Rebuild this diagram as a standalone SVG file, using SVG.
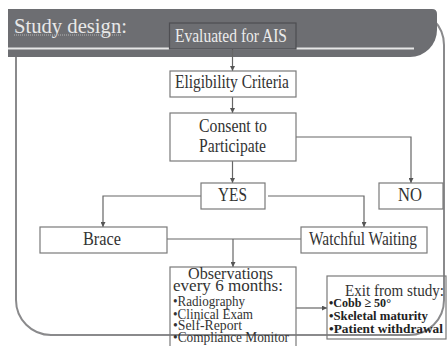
<svg xmlns="http://www.w3.org/2000/svg" width="447" height="346" viewBox="0 0 447 346">
<style>
.box{fill:none;stroke:#7a7a7a;stroke-width:1.2}
.c{fill:none;stroke:#666;stroke-width:1.2}
</style>
<defs>
<marker id="ah" viewBox="0 0 6 6" refX="6" refY="3" markerWidth="5" markerHeight="5" orient="auto" markerUnits="userSpaceOnUse">
<path d="M0,0 L6,3 L0,6 Z" fill="#555"/>
</marker>
</defs>
<rect x="0" y="0" width="447" height="346" fill="#fff"/>
<g id="panel">
<rect x="16" y="10" width="428" height="325" rx="35" ry="35" fill="none" stroke="#8a8a8c" stroke-width="2"/>
</g>
<g id="header">
<path d="M8,9 H432 Q437,9 437,14 V30 A27,27 0 0 1 410,57 H8 Z" fill="#6d6e72"/>
<line x1="8" y1="48.5" x2="414" y2="48.5" stroke="#e6e6e6" stroke-width="2"/>
<text x="14" y="33" font-family="Liberation Serif" font-size="22" fill="#e8e8e8" textLength="113" lengthAdjust="spacingAndGlyphs">Study design:</text>
<line x1="14" y1="35" x2="122" y2="35" stroke="#b5b5b5" stroke-width="1" stroke-dasharray="1,1"/>
</g>
<g id="connectors">
<line class="c" x1="232.5" y1="49" x2="232.5" y2="71" marker-end="url(#ah)"/>
<line class="c" x1="232.5" y1="97" x2="232.5" y2="113" marker-end="url(#ah)"/>
<line class="c" x1="232.5" y1="161" x2="232.5" y2="183" marker-end="url(#ah)"/>
<polyline class="c" points="296,137 411,137 411,183" marker-end="url(#ah)"/>
<polyline class="c" points="201,196 103,196 103,227" marker-end="url(#ah)"/>
<polyline class="c" points="268,196 364,196 364,227" marker-end="url(#ah)"/>
<line class="c" x1="167" y1="239" x2="301" y2="239"/>
<line class="c" x1="233" y1="239" x2="233" y2="267" marker-end="url(#ah)"/>
<line class="c" x1="296" y1="308" x2="327" y2="308" marker-end="url(#ah)"/>
</g>
<g id="evaluated">
<rect x="169.5" y="23" width="126.5" height="26" fill="#6d6e72" stroke="#4e4e52" stroke-width="1.2"/>
<text x="175" y="42" font-family="Liberation Serif" font-size="18" fill="#ececec" textLength="112" lengthAdjust="spacingAndGlyphs">Evaluated for AIS</text>
</g>
<g id="eligibility">
<rect class="box" x="170" y="71" width="126" height="26"/>
<text x="175" y="88" font-family="Liberation Serif" font-size="18" fill="#333" textLength="114" lengthAdjust="spacingAndGlyphs">Eligibility  Criteria</text>
</g>
<g id="consent">
<rect class="box" x="170" y="113" width="126" height="48"/>
<text x="199" y="132" font-family="Liberation Serif" font-size="18" fill="#333" textLength="68" lengthAdjust="spacingAndGlyphs">Consent to</text>
<text x="199" y="152" font-family="Liberation Serif" font-size="18" fill="#333" textLength="67" lengthAdjust="spacingAndGlyphs">Participate</text>
</g>
<g id="yes">
<rect class="box" x="201" y="183" width="64" height="26"/>
<text x="218" y="201" font-family="Liberation Serif" font-size="18" fill="#333" textLength="29" lengthAdjust="spacingAndGlyphs">YES</text>
</g>
<g id="no">
<rect class="box" x="379" y="183" width="64" height="26"/>
<text x="398" y="201" font-family="Liberation Serif" font-size="18" fill="#333" textLength="24" lengthAdjust="spacingAndGlyphs">NO</text>
</g>
<g id="brace">
<rect class="box" x="40" y="227" width="127" height="26"/>
<text x="83" y="245" font-family="Liberation Serif" font-size="18" fill="#333" textLength="38" lengthAdjust="spacingAndGlyphs">Brace</text>
</g>
<g id="watchful">
<rect class="box" x="301" y="227" width="126" height="26"/>
<text x="309" y="245" font-family="Liberation Serif" font-size="18" fill="#333" textLength="108" lengthAdjust="spacingAndGlyphs">Watchful Waiting</text>
</g>
<g id="observations">
<rect class="box" x="170" y="267" width="126" height="85"/>
<text x="188" y="279" font-family="Liberation Serif" font-size="17" fill="#333" textLength="85" lengthAdjust="spacingAndGlyphs">Observations</text>
<text x="173" y="291" font-family="Liberation Serif" font-size="17" fill="#333" textLength="110" lengthAdjust="spacingAndGlyphs">every 6 months:</text>
<text x="173" y="305.5" font-family="Liberation Serif" font-size="14" fill="#333" textLength="72" lengthAdjust="spacingAndGlyphs">•Radiography</text>
<text x="173" y="318.5" font-family="Liberation Serif" font-size="14" fill="#333" textLength="80" lengthAdjust="spacingAndGlyphs">•Clinical Exam</text>
<text x="173" y="330" font-family="Liberation Serif" font-size="14" fill="#333" textLength="69" lengthAdjust="spacingAndGlyphs">•Self-Report</text>
<text x="173" y="342" font-family="Liberation Serif" font-size="14" fill="#333" textLength="116" lengthAdjust="spacingAndGlyphs">•Compliance Monitor</text>
</g>
<g id="exit">
<rect class="box" x="327" y="276" width="119" height="63"/>
<text x="345" y="296" font-family="Liberation Serif" font-size="17" fill="#333" textLength="99" lengthAdjust="spacingAndGlyphs">Exit from study:</text>
<text x="329" y="306.5" font-family="Liberation Serif" font-size="13.5" font-weight="bold" fill="#222" textLength="62" lengthAdjust="spacingAndGlyphs">•Cobb ≥ 50°</text>
<text x="329" y="320" font-family="Liberation Serif" font-size="13.5" font-weight="bold" fill="#222" textLength="99" lengthAdjust="spacingAndGlyphs">•Skeletal maturity</text>
<text x="329" y="332.5" font-family="Liberation Serif" font-size="13.5" font-weight="bold" fill="#222" textLength="114" lengthAdjust="spacingAndGlyphs">•Patient withdrawal</text>
</g>
</svg>
